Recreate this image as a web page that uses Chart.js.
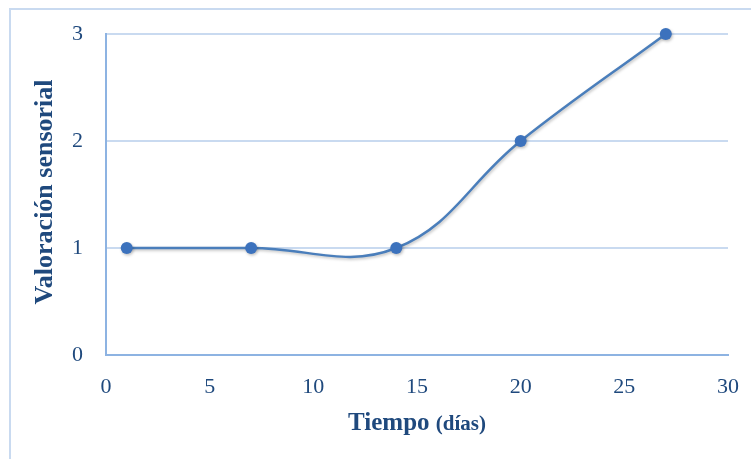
<!DOCTYPE html>
<html>
<head>
<meta charset="utf-8">
<script src="https://cdn.jsdelivr.net/npm/chart.js@4/dist/chart.umd.min.js"></script>
<style>
  html, body { margin: 0; padding: 0; background: #fff; }
  #wrap { width: 751px; height: 459px; position: relative; }
</style>
</head>
<body>
<div id="wrap"><canvas id="c" width="751" height="459"></canvas></div>
<script>
// Días de almacenamiento y valoración sensorial observada
const dias = [1, 7, 14, 20, 27];
const valoracion = [1, 1, 1, 2, 3];
const xTicks = [0, 5, 10, 15, 20, 25, 30];
const yTicks = [0, 1, 2, 3];

const textColor = '#1f497d';
const serif = '"Liberation Serif", "Times New Roman", serif';

// Evita que las etiquetas de los extremos encojan el área del gráfico
function noOverflow(s) {
  s.paddingTop = 0; s.paddingBottom = 0; s.paddingLeft = 0; s.paddingRight = 0;
}

// Marco exterior y títulos de los ejes
const decor = {
  id: 'decor',
  beforeDraw(chart) {
    const ctx = chart.ctx;
    ctx.save();
    ctx.strokeStyle = '#c9daf0';
    ctx.lineWidth = 2;
    ctx.strokeRect(10, 9, 760, 470);
    ctx.restore();
  },
  afterDraw(chart) {
    const ctx = chart.ctx;
    const a = chart.chartArea;
    ctx.save();
    ctx.fillStyle = textColor;
    ctx.textBaseline = 'alphabetic';
    // Título del eje X: el paréntesis va en un cuerpo algo menor
    const f1 = 'bold 25px ' + serif;
    const f2 = 'bold 21px ' + serif;
    const t1 = 'Tiempo ', t2 = '(días)';
    ctx.font = f1; const w1 = ctx.measureText(t1).width;
    ctx.font = f2; const w2 = ctx.measureText(t2).width;
    const x = (a.left + a.right) / 2 - (w1 + w2) / 2;
    const y = 430;
    ctx.font = f1; ctx.fillText(t1, x, y);
    ctx.font = f2; ctx.fillText(t2, x + w1, y);
    // Título del eje Y, girado
    ctx.translate(45, 192);
    ctx.rotate(-Math.PI / 2);
    ctx.textAlign = 'center';
    ctx.textBaseline = 'middle';
    ctx.font = 'bold 26px ' + serif;
    ctx.fillText('Valoración sensorial', 0, 0);
    ctx.restore();
  }
};

// Sombra suave bajo la serie
const shadow = {
  id: 'shadow',
  beforeDatasetDraw(chart) {
    const ctx = chart.ctx;
    ctx.save();
    ctx.shadowColor = 'rgba(0,0,0,0.25)';
    ctx.shadowBlur = 3;
    ctx.shadowOffsetX = 1;
    ctx.shadowOffsetY = 1.5;
  },
  afterDatasetDraw(chart) {
    chart.ctx.restore();
  }
};

new Chart(document.getElementById('c'), {
  type: 'scatter',
  data: {
    datasets: [{
      data: dias.map((d, i) => ({ x: d, y: valoracion[i] })),
      showLine: true,
      tension: 0.4,
      clip: false,
      borderColor: '#4a7ebb',
      borderWidth: 2.5,
      pointRadius: 6,
      pointBackgroundColor: '#3c72bd',
      pointBorderColor: '#3c72bd',
      pointBorderWidth: 0
    }]
  },
  options: {
    responsive: false,
    animation: false,
    devicePixelRatio: 1,
    layout: { padding: { left: 0, right: 23, top: 34, bottom: 0 } },
    plugins: { legend: { display: false }, tooltip: { enabled: false } },
    scales: {
      x: {
        type: 'linear',
        min: 0, max: 30,
        afterBuildTicks(s) { s.ticks = xTicks.map(v => ({ value: v })); },
        afterFit(s) { s.height = 104; noOverflow(s); },
        grid: { display: false, drawTicks: false },
        border: { display: true, color: '#8db3e2', width: 2 },
        ticks: {
          padding: 19,
          color: textColor,
          font: { family: serif, size: 22 }
        }
      },
      y: {
        type: 'linear',
        min: 0, max: 3,
        afterBuildTicks(s) { s.ticks = yTicks.map(v => ({ value: v })); },
        afterFit(s) { s.width = 106; noOverflow(s); },
        grid: { color: '#c9daf0', lineWidth: 2, drawTicks: false },
        border: { display: true, color: '#8db3e2', width: 2 },
        ticks: {
          padding: 23,
          color: textColor,
          font: { family: serif, size: 22 }
        }
      }
    }
  },
  plugins: [decor, shadow]
});
</script>
</body>
</html>
